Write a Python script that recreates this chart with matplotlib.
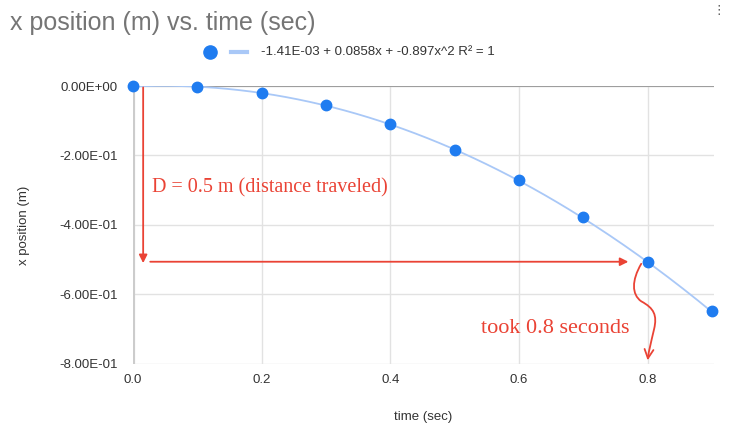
import numpy as np
import matplotlib.pyplot as plt
from matplotlib.path import Path
from matplotlib.patches import FancyArrowPatch

# data
time_sec = [0.0, 0.1, 0.2, 0.3, 0.4, 0.5, 0.6, 0.7, 0.8, 0.9]
x_pos = [0.0, -0.004, -0.02, -0.055, -0.11, -0.183, -0.27, -0.378, -0.506, -0.649]
# trendline coefficients from the legend
fit_c0, fit_c1, fit_c2 = -1.41e-03, 0.0858, -0.897
y_ticks = [0.0, -0.2, -0.4, -0.6, -0.8]
y_tick_labels = ['0.00E+00', '-2.00E-01', '-4.00E-01', '-6.00E-01', '-8.00E-01']
x_ticks = [0.0, 0.2, 0.4, 0.6, 0.8]
legend_text = '-1.41E-03 + 0.0858x + -0.897x^2 R² = 1'

blue = '#1f7cf0'
light_blue = '#a9c8f7'
red = '#ea4335'

plt.rcParams['font.family'] = ['Liberation Sans', 'DejaVu Sans']
serif = ['Liberation Serif', 'DejaVu Serif']

fig = plt.figure(figsize=(7.3, 4.26), dpi=100)
ax = fig.add_axes([0.182, 0.146, 0.796, 0.652])

tt = np.linspace(0, 0.91, 200)
ax.plot(tt, fit_c0 + fit_c1 * tt + fit_c2 * tt ** 2, color=light_blue, lw=1.3, zorder=2)
ax.plot(time_sec, x_pos, 'o', color=blue, ms=7.5, zorder=3, clip_on=False)

ax.set_xlim(0, 0.903)
ax.set_ylim(-0.8, 0)
ax.set_yticks(y_ticks)
ax.set_yticklabels(y_tick_labels)
ax.set_xticks(x_ticks)
ax.set_xticklabels([f'{v:.1f}' for v in x_ticks])
ax.tick_params(length=0, labelsize=9.5, colors='#333333')
ax.tick_params(axis='y', pad=11)
ax.tick_params(axis='x', pad=7)
ax.grid(True, color='#e2e2e2', lw=1)
ax.set_axisbelow(True)
for s in ax.spines.values():
    s.set_visible(False)
ax.axhline(0, color='#9e9e9e', lw=1.5, zorder=1)
ax.axvline(0, color='#cccccc', lw=3, zorder=1)

ax.set_xlabel('time (sec)', fontsize=9.5, color='#333333', labelpad=18)
ax.set_ylabel('x position (m)', fontsize=9.5, color='#333333', labelpad=21)

fig.text(0.014, 0.945, 'x position (m) vs. time (sec)', fontsize=18, color='#757575', va='center')
fig.text(0.985, 0.975, '⋮', fontsize=9, color='#555555', ha='center', va='center')

# legend
fig.lines.append(plt.Line2D([0.288], [0.878], marker='o', color=blue, ms=9.5, transform=fig.transFigure))
fig.lines.append(plt.Line2D([0.316, 0.338], [0.878, 0.878], color=light_blue, lw=3, transform=fig.transFigure))
fig.text(0.357, 0.878, legend_text, fontsize=9.5, color='#333333', va='center')

# red annotations
ax.annotate('', xy=(0.016, -0.51), xytext=(0.016, -0.004),
            arrowprops=dict(arrowstyle='-|>', color=red, lw=1.3, mutation_scale=12, shrinkA=0, shrinkB=0))
ax.annotate('', xy=(0.77, -0.506), xytext=(0.027, -0.506),
            arrowprops=dict(arrowstyle='-|>', color=red, lw=1.3, mutation_scale=12, shrinkA=0, shrinkB=0))
ax.text(0.029, -0.292, 'D = 0.5 m (distance traveled)', fontsize=14.5, color=red,
        family=serif, va='center')
ax.text(0.656, -0.697, 'took 0.8 seconds', fontsize=16, color=red,
        family=serif, va='center', ha='center')

wave = Path([(0.79, -0.512), (0.775, -0.56), (0.775, -0.6), (0.79, -0.62),
             (0.81, -0.64), (0.815, -0.66), (0.81, -0.7),
             (0.805, -0.74), (0.802, -0.76), (0.8, -0.79)],
            [Path.MOVETO, Path.CURVE4, Path.CURVE4, Path.CURVE4,
             Path.CURVE4, Path.CURVE4, Path.CURVE4,
             Path.CURVE4, Path.CURVE4, Path.CURVE4])
ax.add_patch(FancyArrowPatch(path=wave, arrowstyle='->', color=red, lw=1.3,
                             mutation_scale=16, clip_on=False))

fig.savefig('out.png', dpi=100)
